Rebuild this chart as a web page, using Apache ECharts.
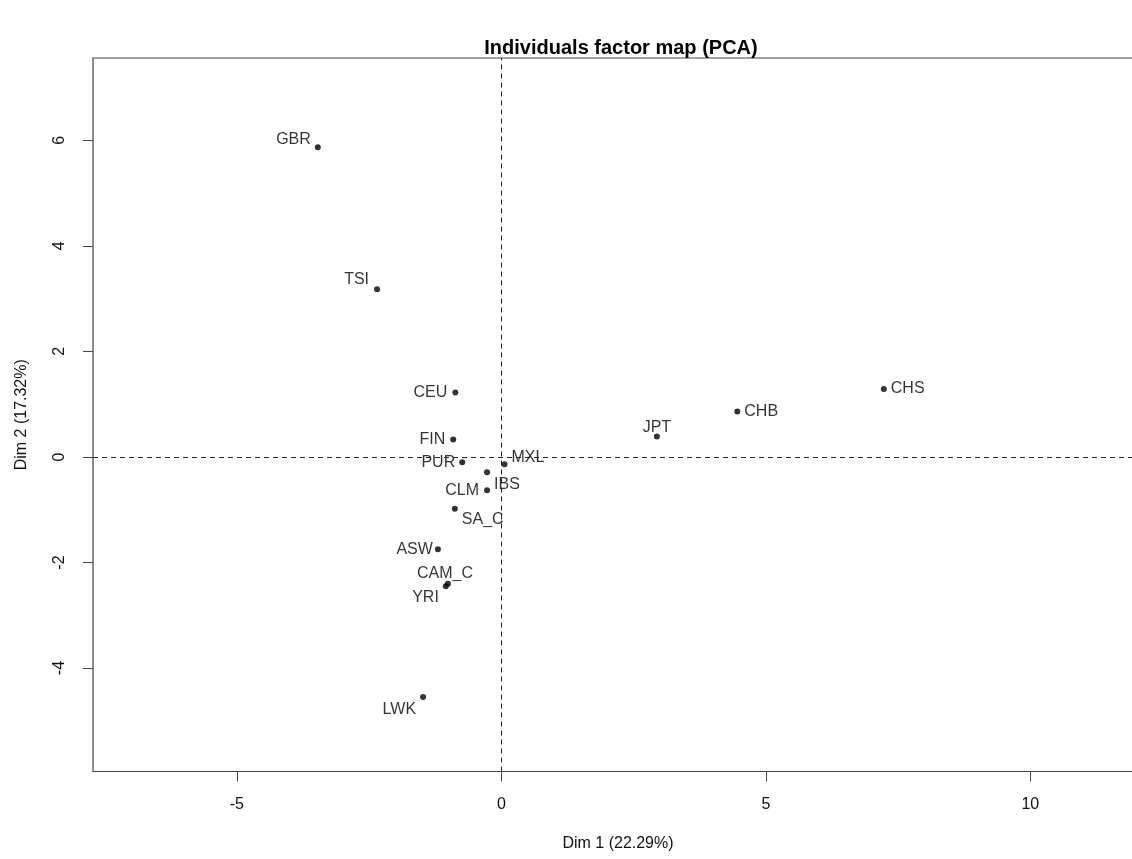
<!DOCTYPE html>
<html>
<head>
<meta charset="utf-8">
<script src="https://cdn.jsdelivr.net/npm/echarts@6/dist/echarts.min.js"></script>
<style>
html,body{margin:0;padding:0;background:#fff;}
#chart{width:1132px;height:859px;}
</style>
</head>
<body>
<div id="chart"></div>
<script>
// ---- data ----
var names = ['GBR','TSI','CEU','FIN','PUR','MXL','IBS','CLM','SA_C','ASW','CAM_C','YRI','LWK','JPT','CHB','CHS'];
var dim1  = [-3.47,-2.35,-0.87,-0.91,-0.74,0.06,-0.27,-0.27,-0.88,-1.20,-1.01,-1.05,-1.48,2.94,4.46,7.23];
var dim2  = [5.87,3.18,1.22,0.33,-0.10,-0.14,-0.29,-0.63,-0.98,-1.75,-2.40,-2.45,-4.55,0.39,0.86,1.29];
var xTicks = [-5,0,5,10];
var yTicks = [-4,-2,0,2,4,6];

// ---- label placement (style): side, gap from dot, dx, dy ----
var place = {
  GBR:['left',4,0,-8],
  TSI:['left',5,0,-10],
  CEU:['left',5,0,0],
  FIN:['left',5,0,0],
  PUR:['left',4,0,0],
  MXL:['right',4,0,-7],
  IBS:['right',4,0,12],
  CLM:['left',5,0,0],
  SA_C:['right',4,0,11],
  ASW:['left',2,0,0],
  CAM_C:['top',-1,-3,0],
  YRI:['left',4,0,11],
  LWK:['left',4,0,13],
  JPT:['top',-2,0,0],
  CHB:['right',4,0,0],
  CHS:['right',4,0,0]
};

var R = 3;
function labelFor(n){
  var p = place[n], side=p[0], g=p[1], dx=p[2], dy=p[3];
  if (side==='left')  return {position:[-g + dx, R + dy], align:'right', verticalAlign:'middle'};
  if (side==='right') return {position:[2*R + g + dx, R + dy], align:'left', verticalAlign:'middle'};
  return {position:[R + dx, -g + dy], align:'center', verticalAlign:'bottom'};
}

var pts = names.map(function(n,i){
  var l = labelFor(n);
  return {
    name:n, value:[dim1[i],dim2[i]],
    label:{show:true, formatter:n, position:l.position, align:l.align, verticalAlign:l.verticalAlign}
  };
});

var FONT = 'Liberation Sans, Arial, Helvetica, sans-serif';
var chart = echarts.init(document.getElementById('chart'), null, {renderer:'canvas'});
chart.setOption({
  animation:false,
  backgroundColor:'#fff',
  title:{
    text:'Individuals factor map (PCA)',
    left:616, top:33, textAlign:'center',
    textStyle:{fontFamily:FONT, fontWeight:'bold', fontSize:20, color:'#000'}
  },
  grid:{left:93, width:1050, top:58, bottom:87.5, outerBoundsMode:'none', containLabel:false,
        show:true, borderColor:'#444', borderWidth:1.2, backgroundColor:'transparent'},
  xAxis:{
    type:'value', min:-7.72, max:12.13,
    name:'Dim 1 (22.29%)', nameLocation:'middle', nameGap:64,
    nameTextStyle:{fontFamily:FONT, fontSize:16, color:'#111'},
    axisLine:{show:false, onZero:false},
    splitLine:{show:false},
    axisTick:{show:true, customValues:xTicks, length:10, inside:false, lineStyle:{color:'#444',width:1}},
    axisLabel:{customValues:xTicks, margin:25, fontFamily:FONT, fontSize:16, color:'#111'}
  },
  yAxis:{
    type:'value', min:-5.96, max:7.56,
    name:'Dim 2 (17.32%)', nameLocation:'middle', nameGap:63, nameRotate:90,
    nameTextStyle:{fontFamily:FONT, fontSize:16, color:'#111'},
    axisLine:{show:false, onZero:false},
    splitLine:{show:false},
    axisTick:{show:true, customValues:yTicks, length:10, inside:false, lineStyle:{color:'#444',width:1}},
    axisLabel:{customValues:yTicks, rotate:90, margin:25, fontFamily:FONT, fontSize:16, color:'#111'}
  },
  series:[
    {
      type:'scatter',
      symbol:'circle', symbolSize:2*R,
      itemStyle:{color:'#000'},
      label:{fontFamily:FONT, fontSize:16, color:'#000'},
      data:pts,
      z:3
    },
    {
      type:'line', data:[], silent:true,
      markLine:{
        silent:true, symbol:'none', label:{show:false},
        lineStyle:{type:[5,4], color:'#222', width:1},
        data:[{xAxis:0},{yAxis:0}]
      },
      z:2
    }
  ]
});
</script>
</body>
</html>
